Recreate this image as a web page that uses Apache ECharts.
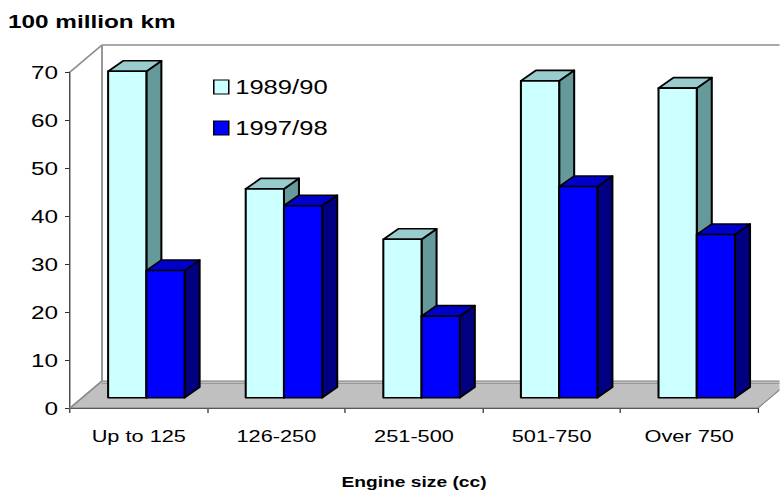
<!DOCTYPE html>
<html>
<head>
<meta charset="utf-8">
<script src="https://cdn.jsdelivr.net/npm/echarts@6/dist/echarts.min.js"></script>
<style>
  html, body { margin: 0; padding: 0; background: #fff; overflow: hidden; }
  #wrap { width: 780px; height: 495px; overflow: hidden; }
  #chart { height: 495px; transform-origin: 0 0; }
</style>
</head>
<body>
<div id="wrap"><div id="chart"></div></div>
<script>
// Distance travelled by motorcycles, by engine size (100 million km)
const categories = ['Up to 125', '126-250', '251-500', '501-750', 'Over 750'];
const seriesNames = ['1989/90', '1997/98'];
const values8990 = [68, 43.5, 33, 66, 64.5];
const values9798 = [26.5, 40, 17, 44, 34];

// The chart is laid out on a narrower canvas and widened horizontally,
// which gives the broad lettering of the printed figure.
const SX = 1.28;
const W = 780 / SX;
const hx = px => px / SX;   // horizontal pixel -> layout pixel

// Pseudo-3D geometry
const BOX_DX = hx(32), BOX_DY = -27;       // depth of floor / walls
const BAR_LIFT = 10.3;                     // column front plane sits behind the axis plane
const BAR_DX = hx(15), BAR_DY = -10.5;     // depth of each column
const BAR_LEFT = -0.223, BAR_W = 0.278;    // fractions of the category band

const faceColors = [
  { front: '#CCFFFF', top: '#99CCCC', side: '#669999' },
  { front: '#0000FF', top: '#0000CC', side: '#000080' }
];

function columnRenderer(s) {
  return function (params, api) {
    const i = api.value(0), v = api.value(1);
    const band = api.size([1, 0])[0];
    const base = api.coord([i, 0]);
    const topPt = api.coord([i, v]);
    const xl = base[0] + band * (BAR_LEFT + s * BAR_W);
    const xr = xl + band * BAR_W;
    const yb = base[1] - BAR_LIFT;
    const yt = topPt[1] - BAR_LIFT;
    const c = faceColors[s];
    const line = { stroke: '#000', lineWidth: 1.6, lineJoin: 'round' };
    return {
      type: 'group',
      children: [
        { type: 'polygon', shape: { points: [[xr, yb], [xr + BAR_DX, yb + BAR_DY], [xr + BAR_DX, yt + BAR_DY], [xr, yt]] },
          style: Object.assign({ fill: c.side }, line) },
        { type: 'polygon', shape: { points: [[xl, yt], [xr, yt], [xr + BAR_DX, yt + BAR_DY], [xl + BAR_DX, yt + BAR_DY]] },
          style: Object.assign({ fill: c.top }, line) },
        { type: 'rect', shape: { x: xl, y: yt, width: xr - xl, height: yb - yt },
          style: Object.assign({ fill: c.front }, line) }
      ]
    };
  };
}

function frameRenderer(params, api) {
  const cs = params.coordSys;
  const x0 = cs.x, y0 = cs.y, x1 = cs.x + cs.width, y1 = cs.y + cs.height;
  const bx0 = x0 + BOX_DX, by0 = y0 + BOX_DY, bx1 = x1 + BOX_DX, by1 = y1 + BOX_DY;
  const wall = { stroke: '#8c8c8c', lineWidth: 1.4, fill: null };
  return {
    type: 'group',
    children: [
      // floor
      { type: 'polygon', shape: { points: [[x0, y1], [x1, y1], [bx1, by1], [bx0, by1]] },
        style: { fill: '#C0C0C0', stroke: '#7f7f7f', lineWidth: 1 } },
      { type: 'line', shape: { x1: bx0, y1: by1 + 2.5, x2: bx1, y2: by1 + 2.5 },
        style: { stroke: '#9a9a9a', lineWidth: 1 } },
      // left wall edges
      { type: 'line', shape: { x1: x0, y1: y0, x2: bx0, y2: by0 }, style: wall },
      { type: 'line', shape: { x1: x0, y1: y1, x2: bx0, y2: by1 }, style: wall },
      // back wall edges
      { type: 'line', shape: { x1: bx0, y1: by0, x2: bx0, y2: by1 }, style: wall },
      { type: 'line', shape: { x1: bx0, y1: by0, x2: bx1, y2: by0 }, style: wall }
    ]
  };
}

const FONT = "'Liberation Sans', Arial, sans-serif";

const el = document.getElementById('chart');
el.style.width = W + 'px';
el.style.transform = 'scaleX(' + SX + ')';

const chart = echarts.init(el, null, { renderer: 'svg', width: W, height: 495 });
chart.setOption({
  animation: false,
  backgroundColor: '#fff',
  title: {
    text: '100 million km', left: hx(8), top: 12, padding: 0,
    textStyle: { fontFamily: FONT, fontWeight: 'bold', fontSize: 19, color: '#000' }
  },
  legend: {
    data: seriesNames, orient: 'vertical', left: hx(213), top: 77, padding: 0,
    itemWidth: hx(15), itemHeight: 14, itemGap: 21, icon: 'rect',
    itemStyle: { borderColor: '#000', borderWidth: 1.2 },
    textStyle: { fontFamily: FONT, fontSize: 20, color: '#000' }
  },
  grid: { left: hx(70), right: hx(22), top: 72, bottom: 87, outerBoundsMode: 'none', containLabel: false },
  xAxis: {
    type: 'category', data: categories,
    name: 'Engine size (cc)', nameLocation: 'middle', nameGap: 66,
    nameTextStyle: { fontFamily: FONT, fontWeight: 'bold', fontSize: 15, color: '#000' },
    axisLine: { show: true, lineStyle: { color: '#333', width: 1 } },
    axisTick: { show: true, length: 5, lineStyle: { color: '#333' } },
    axisLabel: { fontFamily: FONT, fontSize: 17, color: '#000', margin: 19 },
    splitLine: { show: false }
  },
  yAxis: {
    type: 'value', min: 0, max: 70, interval: 10,
    axisLine: { show: true, lineStyle: { color: '#333', width: 1 } },
    axisTick: { show: true, length: hx(5), lineStyle: { color: '#333' } },
    axisLabel: { fontFamily: FONT, fontSize: 19, color: '#000', margin: hx(12) },
    splitLine: { show: false }
  },
  series: [
    { name: 'frame', type: 'custom', renderItem: frameRenderer, data: [[0, 0]], z: 1, silent: true },
    { name: seriesNames[0], type: 'custom', renderItem: columnRenderer(0), z: 3,
      itemStyle: { color: faceColors[0].front },
      data: values8990.map((v, i) => [i, v]) },
    { name: seriesNames[1], type: 'custom', renderItem: columnRenderer(1), z: 3,
      itemStyle: { color: faceColors[1].front },
      data: values9798.map((v, i) => [i, v]) }
  ]
});
</script>
</body>
</html>
